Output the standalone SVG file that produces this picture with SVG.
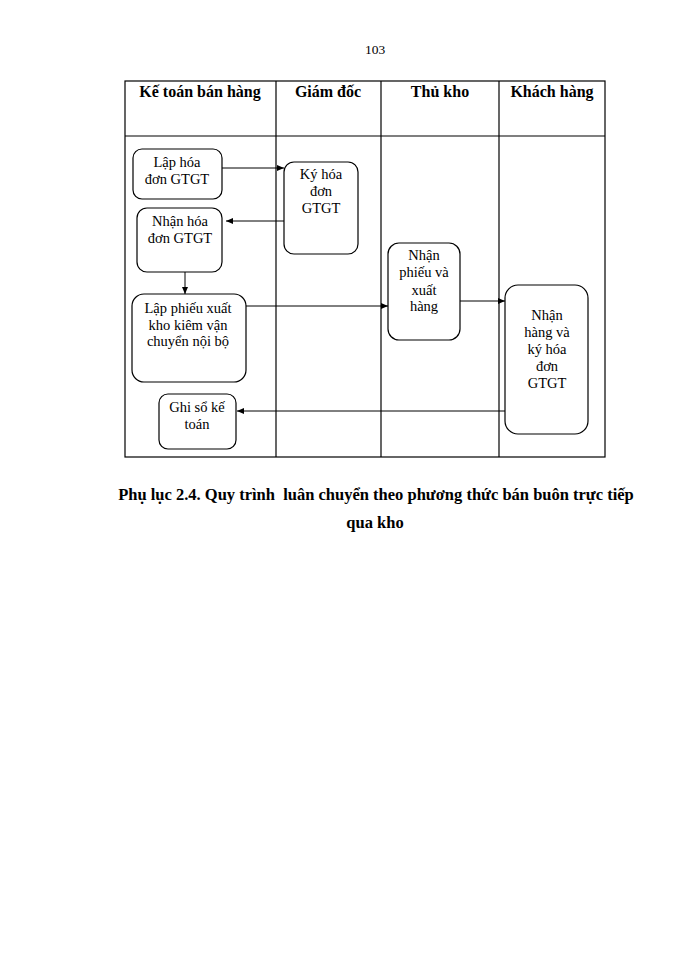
<svg xmlns="http://www.w3.org/2000/svg" width="700" height="960" viewBox="0 0 700 960">
<style>
.t{font-family:"Liberation Serif","Times New Roman",serif;font-size:14.5px;fill:#000;text-anchor:middle}
.h{font-family:"Liberation Serif","Times New Roman",serif;font-size:16px;font-weight:bold;fill:#000;text-anchor:middle}
.cap{font-family:"Liberation Serif","Times New Roman",serif;font-size:16.5px;font-weight:bold;fill:#000;text-anchor:middle}
.grid{stroke:#000;stroke-width:1.2;fill:none}
.box{fill:#fff;stroke:#000;stroke-width:1.2}
.c{stroke:#000;stroke-width:1;fill:none}
</style>
<defs>
<marker id="ah" markerWidth="8" markerHeight="8" refX="7" refY="4" orient="auto" markerUnits="userSpaceOnUse">
<path d="M0,1 L7,4 L0,7 Z" fill="#000"/>
</marker>
</defs>
<rect width="700" height="960" fill="#fff"/>
<text class="t" x="375" y="54" style="font-size:13.5px">103</text>
<g id="table">
<rect class="grid" x="125" y="81" width="480" height="376"/>
<line class="grid" x1="125" y1="136" x2="605" y2="136"/>
<line class="grid" x1="276" y1="81" x2="276" y2="457"/>
<line class="grid" x1="381" y1="81" x2="381" y2="457"/>
<line class="grid" x1="499" y1="81" x2="499" y2="457"/>
<text class="h" x="200" y="97">Kế toán bán hàng</text>
<text class="h" x="328" y="97">Giám đốc</text>
<text class="h" x="440" y="97">Thủ kho</text>
<text class="h" x="552" y="97">Khách hàng</text>
</g>
<g id="connectors">
<line class="c" x1="222" y1="168" x2="284" y2="168" marker-end="url(#ah)"/>
<line class="c" x1="284" y1="221" x2="226" y2="221" marker-end="url(#ah)"/>
<line class="c" x1="185" y1="272" x2="185" y2="294" marker-end="url(#ah)"/>
<line class="c" x1="246" y1="306" x2="388" y2="306" marker-end="url(#ah)"/>
<line class="c" x1="460" y1="301" x2="505" y2="301" marker-end="url(#ah)"/>
<line class="c" x1="505" y1="411" x2="237" y2="411" marker-end="url(#ah)"/>
</g>
<g id="n1">
<rect class="box" x="133" y="149" width="89" height="50" rx="9"/>
<text class="t" x="177" y="167">Lập hóa</text>
<text class="t" x="177" y="184">đơn GTGT</text>
</g>
<g id="n2">
<rect class="box" x="284" y="162" width="74" height="92" rx="10"/>
<text class="t" x="321" y="179">Ký hóa</text>
<text class="t" x="321" y="196">đơn</text>
<text class="t" x="321" y="213">GTGT</text>
</g>
<g id="n3">
<rect class="box" x="137" y="208" width="85" height="64" rx="10"/>
<text class="t" x="180" y="226">Nhận hóa</text>
<text class="t" x="180" y="243">đơn GTGT</text>
</g>
<g id="n4">
<rect class="box" x="132" y="294" width="114" height="88" rx="12"/>
<text class="t" x="188" y="313">Lập phiếu xuất</text>
<text class="t" x="188" y="330">kho kiêm vận</text>
<text class="t" x="188" y="346">chuyển nội bộ</text>
</g>
<g id="n5">
<rect class="box" x="159" y="394" width="77" height="55" rx="9"/>
<text class="t" x="197" y="412">Ghi sổ kế</text>
<text class="t" x="197" y="429">toán</text>
</g>
<g id="n6">
<rect class="box" x="388" y="243" width="72" height="97" rx="11"/>
<text class="t" x="424" y="260">Nhận</text>
<text class="t" x="424" y="277">phiếu và</text>
<text class="t" x="424" y="295">xuất</text>
<text class="t" x="424" y="311">hàng</text>
</g>
<g id="n7">
<rect class="box" x="505" y="285" width="83" height="149" rx="13"/>
<text class="t" x="547" y="320">Nhận</text>
<text class="t" x="547" y="337">hàng và</text>
<text class="t" x="547" y="354">ký hóa</text>
<text class="t" x="547" y="371">đơn</text>
<text class="t" x="547" y="388">GTGT</text>
</g>
<text class="cap" x="376" y="500" xml:space="preserve">Phụ lục 2.4. Quy trình  luân chuyển theo phương thức bán buôn trực tiếp</text>
<text class="cap" x="375" y="528">qua kho</text>
</svg>
